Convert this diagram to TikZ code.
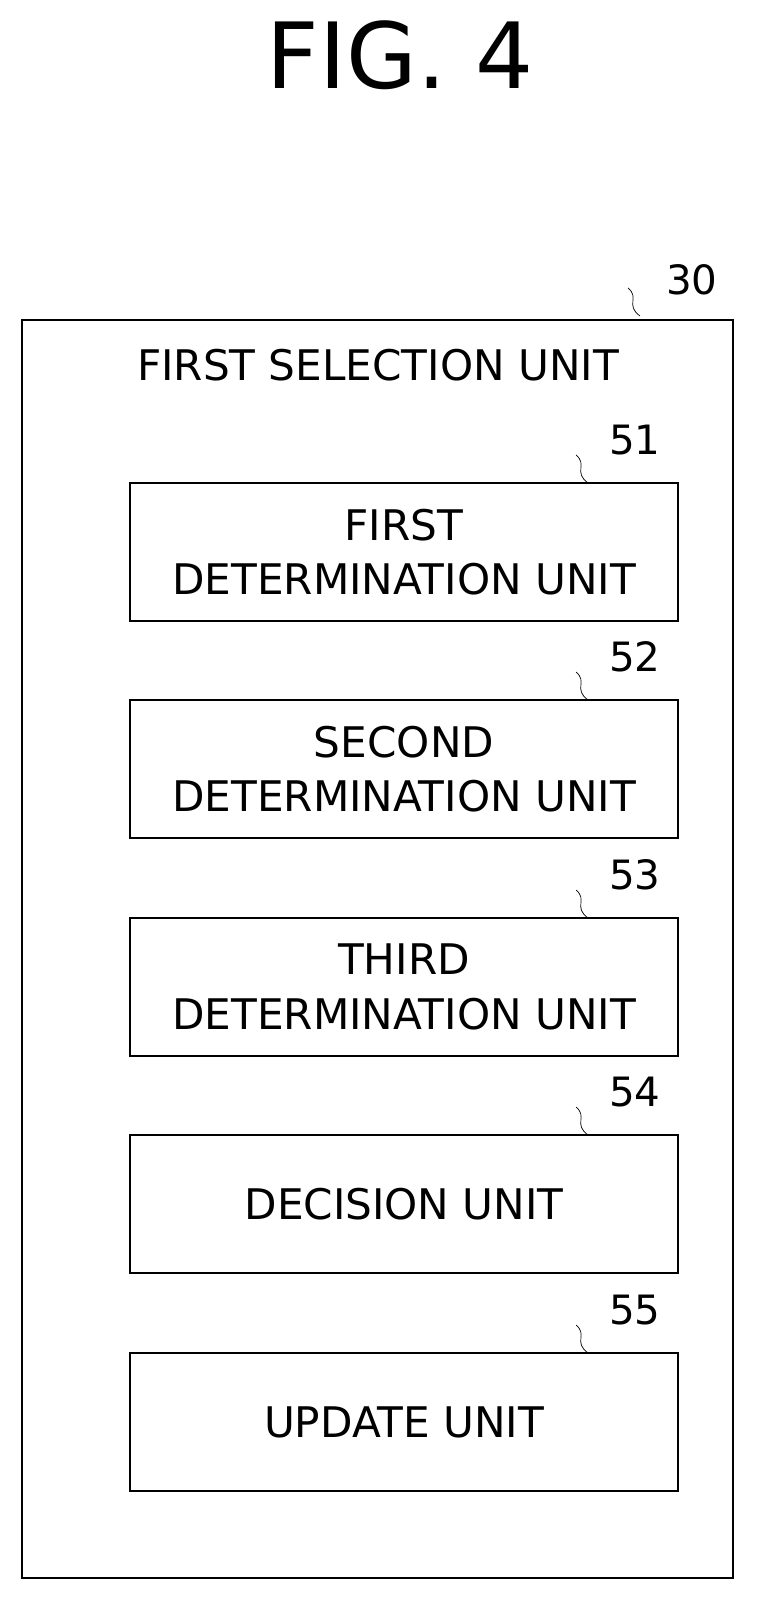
\documentclass[tikz,border=0pt]{standalone}
\usepackage{fontspec}
\setmainfont{DejaVu Sans}
\begin{document}
\begin{tikzpicture}
	[x=0.02cm, y=-0.02cm,
	every node/.style={font=\fontsize{24}{31}\selectfont},
	unit/.style={draw,line width=1.6pt,minimum width=10.96cm,minimum height=2.76cm,align=center,inner sep=0pt},
	tag/.style={font=\fontsize{23}{29}\selectfont}]
	\useasboundingbox (0,0) rectangle (770,1602);
	\node (fig) at (400,55) {\fontsize{52}{60}\selectfont FIG. 4};
	\draw [line width=1.6pt] (22,320) rectangle (733,1578);
	\node (outer) at (378,365) {FIRST SELECTION UNIT};
	\node (n30) [tag] at (692,280) {30};
	\draw (640,316) .. controls (625,305) and (640,298) .. (628,288);
	\node (u51) [unit] at (404,552) {FIRST\\DETERMINATION UNIT};
	\node (u52) [unit] at (404,769) {SECOND\\DETERMINATION UNIT};
	\node (u53) [unit] at (404,987) {THIRD\\DETERMINATION UNIT};
	\node (u54) [unit] at (404,1204) {DECISION UNIT};
	\node (u55) [unit] at (404,1422) {UPDATE UNIT};
	\foreach \n/\y in {51/440,52/657,53/875,54/1092,55/1310}{
		\node (t\n) [tag] at (635,\y) {\n};
		\draw (588,\y+43) .. controls (573,\y+32) and (588,\y+25) .. (576,\y+15);
	}
\end{tikzpicture}
\end{document}
